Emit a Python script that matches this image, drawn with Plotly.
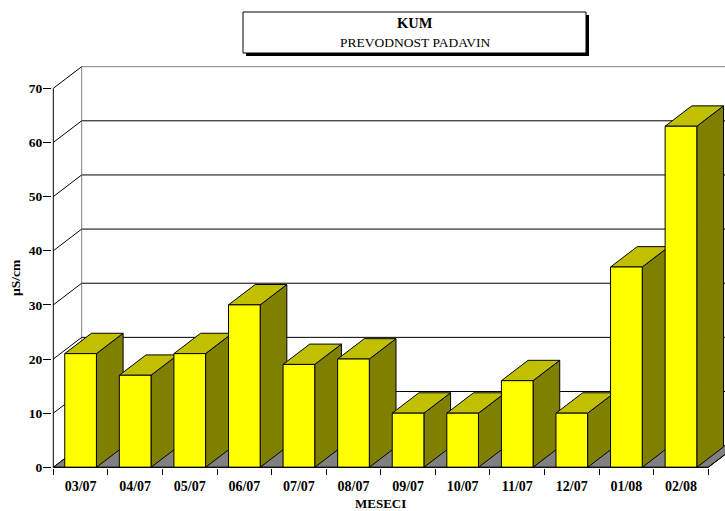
import plotly.graph_objects as go

# Monthly precipitation conductivity at KUM
months = ["03/07", "04/07", "05/07", "06/07", "07/07", "08/07",
          "09/07", "10/07", "11/07", "12/07", "01/08", "02/08"]
values = [21, 17, 21, 30, 19, 20, 10, 10, 16, 10, 37, 63]
y_ticks = [0, 10, 20, 30, 40, 50, 60, 70]

FONT = "Liberation Serif, Times New Roman, serif"
W, H = 725, 511
M_L, M_R, M_T, M_B = 52, 0, 58, 43
CAT_PX = 54.58          # pixels per category
UNIT_PX = 5.414         # pixels per value unit
X0_PX, Y0_PX = 53.3, 467.3   # pixel of the front-left floor corner

# pseudo-3D depth, expressed in axis units
DX, DY = 0.52, 4.0
BAR_HALF = 0.29
BAR_DEPTH = 0.94

x_start = -0.5 - (X0_PX - M_L) / CAT_PX
x_end = x_start + (W - M_L - M_R) / CAT_PX
y_start = -((H - M_B) - Y0_PX) / UNIT_PX
y_end = y_start + (H - M_T - M_B) / UNIT_PX

n = len(months)
x_left, x_right = -0.5, n - 0.5
y_top = y_ticks[-1]


def px_to_paper(px, py):
    return ((px - M_L) / (W - M_L - M_R), ((H - M_B) - py) / (H - M_T - M_B))


def poly(xs, ys, fill, line_color="black", width=1):
    return go.Scatter(x=xs + [xs[0]], y=ys + [ys[0]], mode="lines", fill="toself",
                      fillcolor=fill, line=dict(color=line_color, width=width),
                      hoverinfo="skip", showlegend=False)


def lines(segs, color, width=1):
    xs, ys = [], []
    for (xa, ya), (xb, yb) in segs:
        xs += [xa, xb, None]
        ys += [ya, yb, None]
    return go.Scatter(x=xs, y=ys, mode="lines", line=dict(color=color, width=width),
                      hoverinfo="skip", showlegend=False)


fig = go.Figure()

# back wall gridlines and left wall lines
fig.add_trace(lines([((x_left + DX, v + DY), (x_right + DX, v + DY)) for v in y_ticks[1:-1]], "black"))
fig.add_trace(lines([((x_left + DX, y_top + DY), (x_right + DX, y_top + DY)),
                     ((x_left + DX, DY), (x_left + DX, y_top + DY))], "#808080"))
fig.add_trace(lines([((x_left, v), (x_left + DX, v + DY)) for v in y_ticks], "black"))

# floor
fig.add_trace(poly([x_left, x_right, x_right + DX, x_left + DX], [0, 0, DY, DY], "#808080"))

# columns: side, top, front
bdx, bdy = DX * BAR_DEPTH, DY * BAR_DEPTH
for i, v in enumerate(values):
    xl, xr = i - BAR_HALF, i + BAR_HALF
    fig.add_trace(poly([xr, xr + bdx, xr + bdx, xr], [0, bdy, v + bdy, v], "#808000"))
    fig.add_trace(poly([xl, xr, xr + bdx, xl + bdx], [v, v, v + bdy, v + bdy], "#C0C000"))
    fig.add_trace(poly([xl, xr, xr, xl], [0, 0, v, v], "#FFFF00"))

# front axes and floor edge
fig.add_trace(lines([((x_left, 0), (x_right, 0)),
                     ((x_left, 0), (x_left, y_top)),
                     ((x_right, 0), (x_right + DX, DY))], "black"))

# title box with drop shadow
bx0, by0 = px_to_paper(243, 12)
bx1, by1 = px_to_paper(586, 53)
sx, sy = 3 / (W - M_L - M_R), 3 / (H - M_T - M_B)
fig.add_shape(type="rect", xref="paper", yref="paper", x0=bx0 + sx, x1=bx1 + sx,
              y0=by1 - sy, y1=by0 - sy, fillcolor="black", line=dict(width=0))
fig.add_shape(type="rect", xref="paper", yref="paper", x0=bx0, x1=bx1,
              y0=by1, y1=by0, fillcolor="white", line=dict(color="black", width=1))

tx, ty = px_to_paper(414.5, 23)
fig.add_annotation(xref="paper", yref="paper", x=tx, y=ty, text="KUM", showarrow=False,
                   font=dict(family=FONT, size=14.5, color="black", weight="bold"),
                   xanchor="center", yanchor="middle")
tx, ty = px_to_paper(414.5, 43)
fig.add_annotation(xref="paper", yref="paper", x=tx, y=ty, text="PREVODNOST PADAVIN",
                   showarrow=False, font=dict(family=FONT, size=13.5, color="black"),
                   xanchor="center", yanchor="middle")

# axis titles
tx, ty = px_to_paper(380, 503)
fig.add_annotation(xref="paper", yref="paper", x=tx, y=ty, text="MESECI", showarrow=False,
                   font=dict(family=FONT, size=13, color="black", weight="bold"),
                   xanchor="center", yanchor="middle")
tx, ty = px_to_paper(15, 278)
fig.add_annotation(xref="paper", yref="paper", x=tx, y=ty, text="µS/cm", showarrow=False,
                   textangle=-90,
                   font=dict(family=FONT, size=13.5, color="black", weight="bold"),
                   xanchor="center", yanchor="middle")

fig.update_xaxes(range=[x_start, x_end], showgrid=False, zeroline=False, showline=False,
                 tickmode="array", tickvals=list(range(n)), ticktext=months, ticks="",
                 ticklabelstandoff=8,
                 tickfont=dict(family=FONT, size=14, color="black", weight="bold"),
                 minor=dict(tickmode="array", tickvals=[i - 0.5 for i in range(n + 1)],
                            ticks="outside", ticklen=6, tickwidth=1, tickcolor="black",
                            showgrid=False))
fig.update_yaxes(range=[y_start, y_end], showgrid=False, zeroline=False, showline=False,
                 tickmode="array", tickvals=y_ticks, ticks="outside", ticklen=8,
                 tickwidth=1, tickcolor="black", ticklabelstandoff=-2,
                 tickfont=dict(family=FONT, size=13.5, color="black", weight="bold"))

fig.update_layout(width=W, height=H, margin=dict(l=M_L, r=M_R, t=M_T, b=M_B),
                  paper_bgcolor="white", plot_bgcolor="white", showlegend=False)

fig.write_html("out.html")
